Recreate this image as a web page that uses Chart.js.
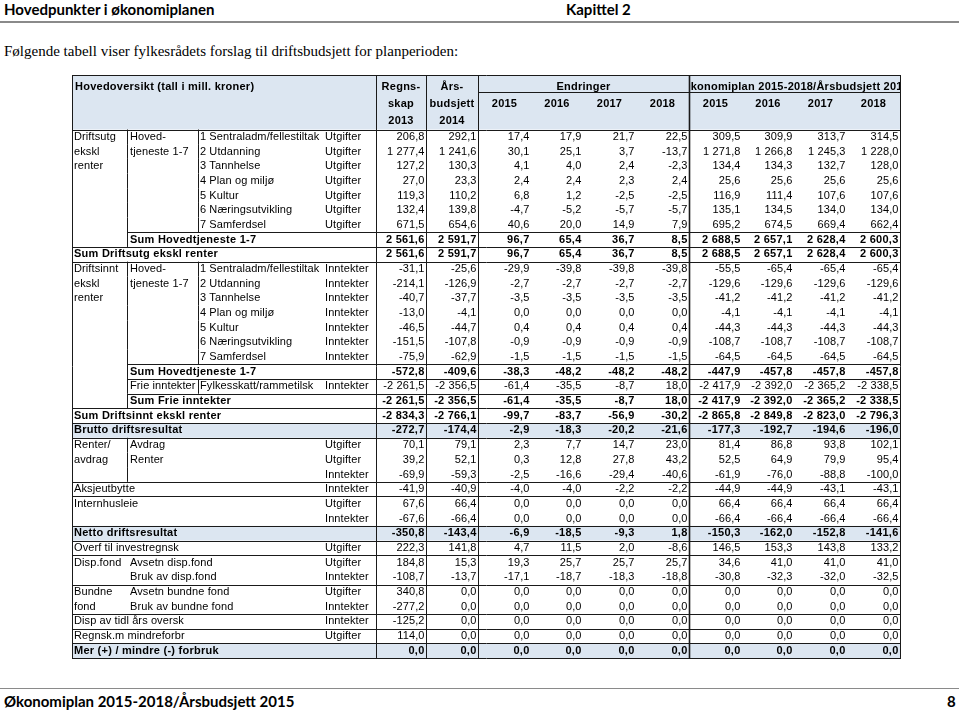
<!DOCTYPE html>
<html lang="no">
<head>
<meta charset="UTF-8">
<title>Hovedoversikt driftsbudsjett</title>
<script src="https://cdn.jsdelivr.net/npm/chart.js@4.4.1/dist/chart.umd.min.js"></script>
<style>
    body { margin: 0; width: 959px; height: 711px; position: relative; overflow: hidden; background: #fff; color: #000; }
    .kap { position: absolute; top: 0px; font: bold 15px Lato, "Open Sans", sans-serif; }
    .rule { position: absolute; left: 0; width: 959px; background: #8a8a8a; }
    .intro { position: absolute; left: 4px; top: 43px; font: 15px "Liberation Serif", serif; }
    #tabell { position: absolute; left: 71px; top: 74px; width: 831px; height: 587px; }
</style>
</head>
<body>
<div class="kap" style="left:4px">Hovedpunkter i økonomiplanen</div>
<div class="kap" style="left:566px">Kapittel 2</div>
<div class="rule" style="top:21px;height:2px"></div>
<div class="intro">Følgende tabell viser fylkesrådets forslag til driftsbudsjett for planperioden:</div>
<div id="tabell"><canvas id="tabellCanvas"></canvas></div>
<div class="rule" style="top:688px;height:1px"></div>
<div class="kap" style="left:4px;top:692px">Økonomiplan 2015-2018/Årsbudsjett 2015</div>
<div class="kap" style="left:947px;top:692px">8</div>

<script>
    var title = 'Hovedoversikt (tall i mill. kroner)';
    var years = ['2015', '2016', '2017', '2018'];

    var labelA = ['Driftsutg', 'ekskl', 'renter', '', '', '', '', '', 'Sum Driftsutg ekskl renter',
        'Driftsinnt', 'ekskl', 'renter', '', '', '', '', '', '', '', 'Sum Driftsinnt ekskl renter',
        'Brutto driftsresultat', 'Renter/', 'avdrag', '', 'Aksjeutbytte', 'Internhusleie', '',
        'Netto driftsresultat', 'Overf til investregnsk', 'Disp.fond', '', 'Bundne', 'fond',
        'Disp av tidl års oversk', 'Regnsk.m mindreforbr', 'Mer (+) / mindre (-) forbruk'];
    var labelB = ['Hoved-', 'tjeneste 1-7', '', '', '', '', '', 'Sum Hovedtjeneste 1-7', '',
        'Hoved-', 'tjeneste 1-7', '', '', '', '', '', 'Sum Hovedtjeneste 1-7', 'Frie inntekter', 'Sum Frie inntekter', '',
        '', 'Avdrag', 'Renter', '', '', '', '',
        '', '', 'Avsetn disp.fond', 'Bruk av disp.fond', 'Avsetn bundne fond', 'Bruk av bundne fond',
        '', '', ''];
    var labelC = ['1 Sentraladm/fellestiltak', '2 Utdanning', '3 Tannhelse', '4 Plan og miljø', '5 Kultur', '6 Næringsutvikling', '7 Samferdsel', '', '',
        '1 Sentraladm/fellestiltak', '2 Utdanning', '3 Tannhelse', '4 Plan og miljø', '5 Kultur', '6 Næringsutvikling', '7 Samferdsel', '', 'Fylkesskatt/rammetilsk', '', '',
        '', '', '', '', '', '', '', '', '', '', '', '', '', '', '', ''];
    var kind = ['Utgifter', 'Utgifter', 'Utgifter', 'Utgifter', 'Utgifter', 'Utgifter', 'Utgifter', '', '',
        'Inntekter', 'Inntekter', 'Inntekter', 'Inntekter', 'Inntekter', 'Inntekter', 'Inntekter', '', 'Inntekter', '', '',
        '', 'Utgifter', 'Utgifter', 'Inntekter', 'Inntekter', 'Utgifter', 'Inntekter',
        '', 'Utgifter', 'Utgifter', 'Inntekter', 'Utgifter', 'Inntekter', 'Inntekter', 'Utgifter', ''];

    var regnskap2013 = [206.8, 1277.4, 127.2, 27.0, 119.3, 132.4, 671.5, 2561.6, 2561.6,
        -31.1, -214.1, -40.7, -13.0, -46.5, -151.5, -75.9, -572.8, -2261.5, -2261.5, -2834.3,
        -272.7, 70.1, 39.2, -69.9, -41.9, 67.6, -67.6, -350.8, 222.3, 184.8, -108.7, 340.8, -277.2, -125.2, 114.0, 0.0];
    var budsjett2014 = [292.1, 1241.6, 130.3, 23.3, 110.2, 139.8, 654.6, 2591.7, 2591.7,
        -25.6, -126.9, -37.7, -4.1, -44.7, -107.8, -62.9, -409.6, -2356.5, -2356.5, -2766.1,
        -174.4, 79.1, 52.1, -59.3, -40.9, 66.4, -66.4, -143.4, 141.8, 15.3, -13.7, 0.0, 0.0, 0.0, 0.0, 0.0];
    var endr2015 = [17.4, 30.1, 4.1, 2.4, 6.8, -4.7, 40.6, 96.7, 96.7,
        -29.9, -2.7, -3.5, 0.0, 0.4, -0.9, -1.5, -38.3, -61.4, -61.4, -99.7,
        -2.9, 2.3, 0.3, -2.5, -4.0, 0.0, 0.0, -6.9, 4.7, 19.3, -17.1, 0.0, 0.0, 0.0, 0.0, 0.0];
    var endr2016 = [17.9, 25.1, 4.0, 2.4, 1.2, -5.2, 20.0, 65.4, 65.4,
        -39.8, -2.7, -3.5, 0.0, 0.4, -0.9, -1.5, -48.2, -35.5, -35.5, -83.7,
        -18.3, 7.7, 12.8, -16.6, -4.0, 0.0, 0.0, -18.5, 11.5, 25.7, -18.7, 0.0, 0.0, 0.0, 0.0, 0.0];
    var endr2017 = [21.7, 3.7, 2.4, 2.3, -2.5, -5.7, 14.9, 36.7, 36.7,
        -39.8, -2.7, -3.5, 0.0, 0.4, -0.9, -1.5, -48.2, -8.7, -8.7, -56.9,
        -20.2, 14.7, 27.8, -29.4, -2.2, 0.0, 0.0, -9.3, 2.0, 25.7, -18.3, 0.0, 0.0, 0.0, 0.0, 0.0];
    var endr2018 = [22.5, -13.7, -2.3, 2.4, -2.5, -5.7, 7.9, 8.5, 8.5,
        -39.8, -2.7, -3.5, 0.0, 0.4, -0.9, -1.5, -48.2, 18.0, 18.0, -30.2,
        -21.6, 23.0, 43.2, -40.6, -2.2, 0.0, 0.0, 1.8, -8.6, 25.7, -18.8, 0.0, 0.0, 0.0, 0.0, 0.0];
    var plan2015 = [309.5, 1271.8, 134.4, 25.6, 116.9, 135.1, 695.2, 2688.5, 2688.5,
        -55.5, -129.6, -41.2, -4.1, -44.3, -108.7, -64.5, -447.9, -2417.9, -2417.9, -2865.8,
        -177.3, 81.4, 52.5, -61.9, -44.9, 66.4, -66.4, -150.3, 146.5, 34.6, -30.8, 0.0, 0.0, 0.0, 0.0, 0.0];
    var plan2016 = [309.9, 1266.8, 134.3, 25.6, 111.4, 134.5, 674.5, 2657.1, 2657.1,
        -65.4, -129.6, -41.2, -4.1, -44.3, -108.7, -64.5, -457.8, -2392.0, -2392.0, -2849.8,
        -192.7, 86.8, 64.9, -76.0, -44.9, 66.4, -66.4, -162.0, 153.3, 41.0, -32.3, 0.0, 0.0, 0.0, 0.0, 0.0];
    var plan2017 = [313.7, 1245.3, 132.7, 25.6, 107.6, 134.0, 669.4, 2628.4, 2628.4,
        -65.4, -129.6, -41.2, -4.1, -44.3, -108.7, -64.5, -457.8, -2365.2, -2365.2, -2823.0,
        -194.6, 93.8, 79.9, -88.8, -43.1, 66.4, -66.4, -152.8, 143.8, 41.0, -32.0, 0.0, 0.0, 0.0, 0.0, 0.0];
    var plan2018 = [314.5, 1228.0, 128.0, 25.6, 107.6, 134.0, 662.4, 2600.3, 2600.3,
        -65.4, -129.6, -41.2, -4.1, -44.3, -108.7, -64.5, -457.8, -2338.5, -2338.5, -2796.3,
        -196.0, 102.1, 95.4, -100.0, -43.1, 66.4, -66.4, -141.6, 133.2, 41.0, -32.5, 0.0, 0.0, 0.0, 0.0, 0.0];

    // styling per row
    var boldRows = [7, 8, 16, 18, 19, 20, 27, 35];
    var blueRows = [20, 27, 35];
    // column where the bottom border of a row starts (-1 = no border)
    var borderFrom = [-1, -1, -1, -1, -1, -1, 1, 0, 0,
        -1, -1, -1, -1, -1, -1, 1, 1, 1, 0, 0,
        0, -1, -1, 0, 0, -1, 0, 0, 0, -1, 0, -1, 0, 0, 0, 0];

    // layout (table units = pixels)
    var colEdges = [0, 55, 126, 304, 354, 406, 459, 511, 564, 617, 670, 722, 775, 828];
    var kindX = 253;
    var headRows = [11.5, 28.5, 45.5];
    var headTop = 17, bodyTop = 54.5, rowH = 14.68;
    var blue = '#dce6f1', lineCol = '#1a1a1a';

    function fmt(v) {
        var p = Math.abs(v).toFixed(1).split('.');
        var i = p[0].replace(/\B(?=(\d{3})+(?!\d))/g, ' ');
        return (v < 0 ? '-' : '') + i + ',' + p[1];
    }

    function innerDividers(r) {
        if (labelC[r] !== '' || (r >= 0 && r <= 6) || (r >= 9 && r <= 15)) return [1, 2];
        if (r === 7 || r === 16 || r === 18 || (r >= 21 && r <= 23)) return [1];
        return [];
    }

    var valueCols = [regnskap2013, budsjett2014, endr2015, endr2016, endr2017, endr2018, plan2015, plan2016, plan2017, plan2018];
    var nRows = regnskap2013.length;

    var tablePlugin = {
        id: 'tabell',
        afterDraw: function (chart) {
            var ctx = chart.ctx;
            var xs = chart.scales.x, ys = chart.scales.y;
            var X = function (v) { return xs.getPixelForValue(v); };
            var Y = function (v) { return ys.getPixelForValue(v); };
            var rowTop = function (r) { return bodyTop + r * rowH; };
            var px = function (p) { return Math.round(p) + 0.5; };

            ctx.save();
            // fills
            ctx.fillStyle = blue;
            ctx.fillRect(X(0), Y(0), X(828) - X(0), Y(bodyTop) - Y(0));
            blueRows.forEach(function (r) {
                ctx.fillRect(X(0), Y(rowTop(r)), X(828) - X(0), Y(rowTop(r + 1)) - Y(rowTop(r)));
            });

            ctx.fillStyle = '#000';
            ctx.textBaseline = 'middle';
            var normal = '11px "Liberation Sans", Arial, sans-serif';
            var bold = 'bold 11px "Liberation Sans", Arial, sans-serif';

            // header
            ctx.font = bold;
            ctx.letterSpacing = '0.25px';
            ctx.textAlign = 'left';
            ctx.fillText(title, X(3), Y(headRows[0]));
            ctx.textAlign = 'center';
            var regC = (colEdges[3] + colEdges[4]) / 2, arsC = (colEdges[4] + colEdges[5]) / 2;
            ctx.fillText('Regns-', X(regC), Y(headRows[0]));
            ctx.fillText('skap', X(regC), Y(headRows[1]));
            ctx.fillText('2013', X(regC), Y(headRows[2]));
            ctx.fillText('Års-', X(arsC), Y(headRows[0]));
            ctx.fillText('budsjett', X(arsC), Y(headRows[1]));
            ctx.fillText('2014', X(arsC), Y(headRows[2]));
            ctx.fillText('Endringer', X((colEdges[5] + colEdges[9]) / 2), Y(headRows[0]));
            ctx.save();
            ctx.beginPath();
            ctx.rect(X(colEdges[9]), Y(0), X(colEdges[13]) - X(colEdges[9]), Y(headTop) - Y(0));
            ctx.clip();
            ctx.fillText('Økonomiplan 2015-2018/Årsbudsjett 2015', X((colEdges[9] + colEdges[13]) / 2 + 1), Y(headRows[0]));
            ctx.restore();
            for (var k = 0; k < 8; k++) {
                ctx.fillText(years[k % 4], X((colEdges[5 + k] + colEdges[6 + k]) / 2), Y(headRows[1]));
            }

            // body
            for (var r = 0; r < nRows; r++) {
                var isBold = boldRows.indexOf(r) >= 0;
                ctx.font = isBold ? bold : normal;
                ctx.letterSpacing = isBold ? '0.25px' : '0.1px';
                var yc = Y(rowTop(r) + rowH / 2);
                ctx.textAlign = 'left';
                if (labelA[r]) ctx.fillText(labelA[r], X(colEdges[0] + 2), yc);
                if (labelB[r]) ctx.fillText(labelB[r], X(colEdges[1] + 3), yc);
                if (labelC[r]) ctx.fillText(labelC[r], X(colEdges[2] + 2), yc);
                if (kind[r]) ctx.fillText(kind[r], X(kindX), yc);
                ctx.textAlign = 'right';
                valueCols.forEach(function (col, c) {
                    ctx.fillText(fmt(col[r]), X(colEdges[4 + c] - 1.5), yc);
                });
            }

            // lines
            ctx.strokeStyle = lineCol;
            ctx.lineWidth = 1;
            ctx.beginPath();
            var h = function (y, x0, x1) { ctx.moveTo(X(x0), px(Y(y))); ctx.lineTo(X(x1) + 1, px(Y(y))); };
            var v = function (x, y0, y1) { ctx.moveTo(px(X(x)), Y(y0)); ctx.lineTo(px(X(x)), Y(y1)); };
            h(0, 0, 828);
            h(headTop, colEdges[5], 828);
            h(bodyTop, 0, 828);
            [0, 3, 4, 5, 13].forEach(function (c) { v(colEdges[c], 0, rowTop(nRows)); });
            for (var r2 = 0; r2 < nRows; r2++) {
                if (borderFrom[r2] >= 0) h(rowTop(r2 + 1), colEdges[borderFrom[r2]], 828);
                innerDividers(r2).forEach(function (c) { v(colEdges[c], rowTop(r2), rowTop(r2 + 1)); });
            }
            ctx.stroke();
            ctx.lineWidth = 1.6;
            ctx.beginPath();
            v(colEdges[9], 0, rowTop(nRows));
            ctx.stroke();
            ctx.restore();
        }
    };

    var tabell = new Chart(document.getElementById('tabellCanvas').getContext('2d'), {
        type: 'scatter',
        data: { datasets: [{ data: [] }] },
        options: {
            responsive: true,
            maintainAspectRatio: false,
            animation: false,
            events: [],
            layout: { padding: 0 },
            plugins: { legend: { display: false }, tooltip: { enabled: false } },
            scales: {
                x: { type: 'linear', min: -1, max: 830, display: false },
                y: { type: 'linear', min: -1, max: 586, reverse: true, display: false }
            }
        },
        plugins: [tablePlugin]
    });
</script>
</body>
</html>
